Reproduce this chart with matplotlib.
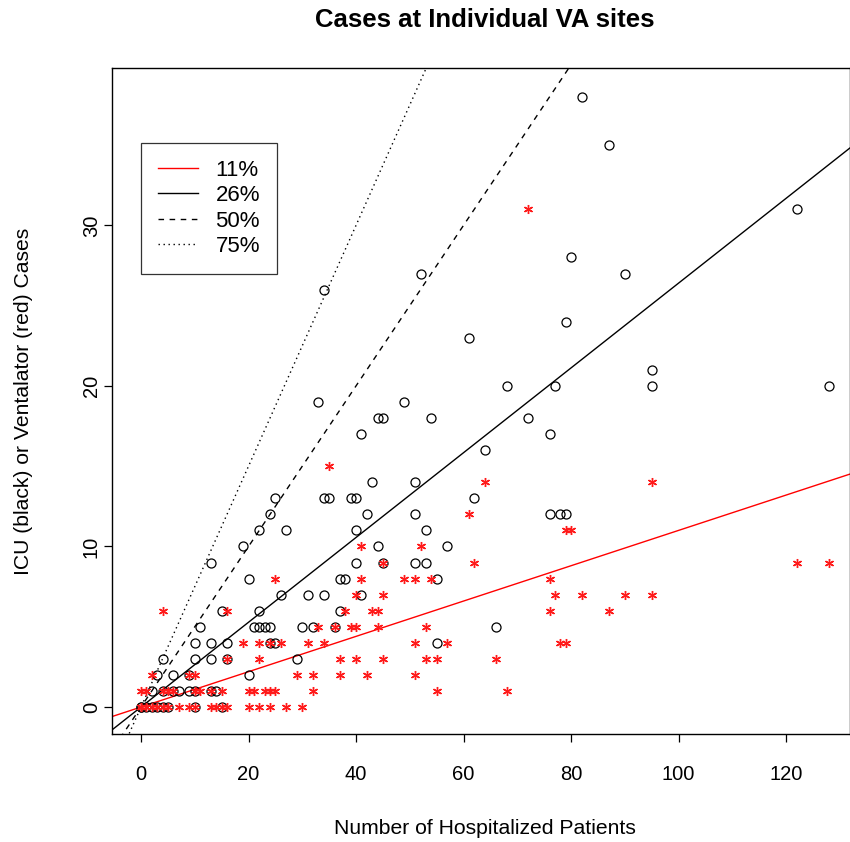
import matplotlib
matplotlib.use("Agg")
import matplotlib.pyplot as plt

plt.rcParams["font.family"] = ["Liberation Sans", "DejaVu Sans"]

# ICU cases (black circles): hospitalized patients and ICU count per site
icu_x = [0, 0, 1, 2, 3, 4, 5, 10, 15,
         2, 4, 6, 7, 9, 10, 13, 14,
         3, 6, 9, 20,
         4, 10, 13, 16, 29,
         10, 13, 16, 24, 25, 55,
         11, 21, 22, 23, 24, 30, 32, 36, 66,
         15, 22, 37,
         26, 31, 34, 41,
         20, 37, 38, 55,
         13, 40, 45, 51, 53,
         19, 44, 57,
         22, 27, 40, 53,
         24, 42, 51, 76, 78, 79,
         25, 34, 35, 39, 40, 62,
         43, 51,
         64,
         41, 76,
         44, 45, 54, 72,
         33, 49,
         68, 77, 95, 128,
         95, 61, 79, 34, 52, 90, 80, 122, 87, 82]
icu_y = [0] * 9 + [1] * 8 + [2] * 4 + [3] * 5 + [4] * 6 + [5] * 9 + [6] * 3 \
    + [7] * 4 + [8] * 4 + [9] * 5 + [10] * 3 + [11] * 4 + [12] * 6 + [13] * 6 \
    + [14] * 2 + [16] + [17] * 2 + [18] * 4 + [19] * 2 + [20] * 4 \
    + [21, 23, 24, 26, 27, 27, 28, 31, 35, 38]

# ventilator cases (red asterisks)
vent_x = [0, 0, 1, 2, 3, 4, 5, 7, 9, 10, 13, 14, 15, 16, 20, 22, 24, 27, 30,
          0, 1, 4, 5, 6, 10, 11, 13, 15, 20, 21, 23, 24, 25, 32, 55, 68,
          2, 9, 10, 29, 32, 37, 42, 51,
          16, 22, 37, 40, 45, 53, 55, 66,
          19, 22, 24, 26, 31, 34, 51, 57, 78, 79,
          33, 36, 39, 40, 44, 53,
          4, 16, 38, 43, 44, 76, 87,
          40, 45, 77, 82, 90, 95,
          25, 41, 49, 51, 54, 76,
          45, 62, 122, 128,
          41, 52, 79, 80, 61, 64, 95, 35, 72]
vent_y = [0] * 19 + [1] * 17 + [2] * 8 + [3] * 8 + [4] * 10 + [5] * 6 \
    + [6] * 7 + [7] * 6 + [8] * 6 + [9] * 4 \
    + [10, 10, 11, 11, 12, 14, 14, 15, 31]

# reference lines through the origin
ref_labels = ["11%", "26%", "50%", "75%"]
ref_slopes = [0.11, 0.264, 0.50, 0.75]
ref_colors = ["#ff0000", "black", "black", "black"]
ref_dashes = [None, None, (4, 4), (1, 2.6)]

xticks = [0, 20, 40, 60, 80, 100, 120]
yticks = [0, 10, 20, 30]

fig = plt.figure(figsize=(8.5, 8.42), dpi=100)
ax = fig.add_axes([112 / 850, 1 - 734 / 842, 738 / 850, 666 / 842])
xlim = (-5.4, 131.9)
ylim = (-1.68, 39.8)

ax.plot(icu_x, icu_y, linestyle="none", marker="o", ms=6.5, mfc="none",
        mec="black", mew=0.9, zorder=3)
ax.plot(vent_x, vent_y, linestyle="none", marker=(6, 2, 0), ms=6.5,
        mec="#ff1a1a", mew=1.0, zorder=3)

handles = []
for lab, s, c, d in zip(ref_labels, ref_slopes, ref_colors, ref_dashes):
    xs = [xlim[0] - 10, xlim[1] + 10]
    ln, = ax.plot(xs, [s * v for v in xs], color=c, lw=1.0, label=lab,
                  zorder=2)
    if d is not None:
        ln.set_dashes(d)
    handles.append(ln)

ax.set_xlim(*xlim)
ax.set_ylim(*ylim)
ax.set_xticks(xticks)
ax.set_yticks(yticks)
ax.tick_params(direction="out", length=6, width=0.9, labelsize=14.5,
               colors="black")
ax.tick_params(axis="x", pad=16)
ax.tick_params(axis="y", pad=2)
for lbl in ax.get_yticklabels():
    lbl.set_rotation(90)
    lbl.set_va("center")
for sp in ax.spines.values():
    sp.set_linewidth(1.0)

leg = ax.legend(handles=handles, loc="upper left",
                bbox_to_anchor=((141 - 112) / 738, (734 - 143) / 666),
                borderaxespad=0, frameon=True, fancybox=False,
                edgecolor="black", fontsize=16, handlelength=1.8,
                handletextpad=0.8, labelspacing=0.2, borderpad=0.75)
leg.get_frame().set_linewidth(0.9)

fig.text(485 / 850, 1 - 20 / 842, "Cases at Individual VA sites",
         ha="center", va="center", fontsize=18.5, fontweight="bold")
fig.text(485 / 850, 1 - 828 / 842, "Number of Hospitalized Patients",
         ha="center", va="center", fontsize=15.25)
fig.text(24 / 850, 1 - 401 / 842, "ICU (black) or Ventalator (red) Cases",
         ha="center", va="center", rotation=90, fontsize=15.25)

fig.savefig("out.png", dpi=100)
